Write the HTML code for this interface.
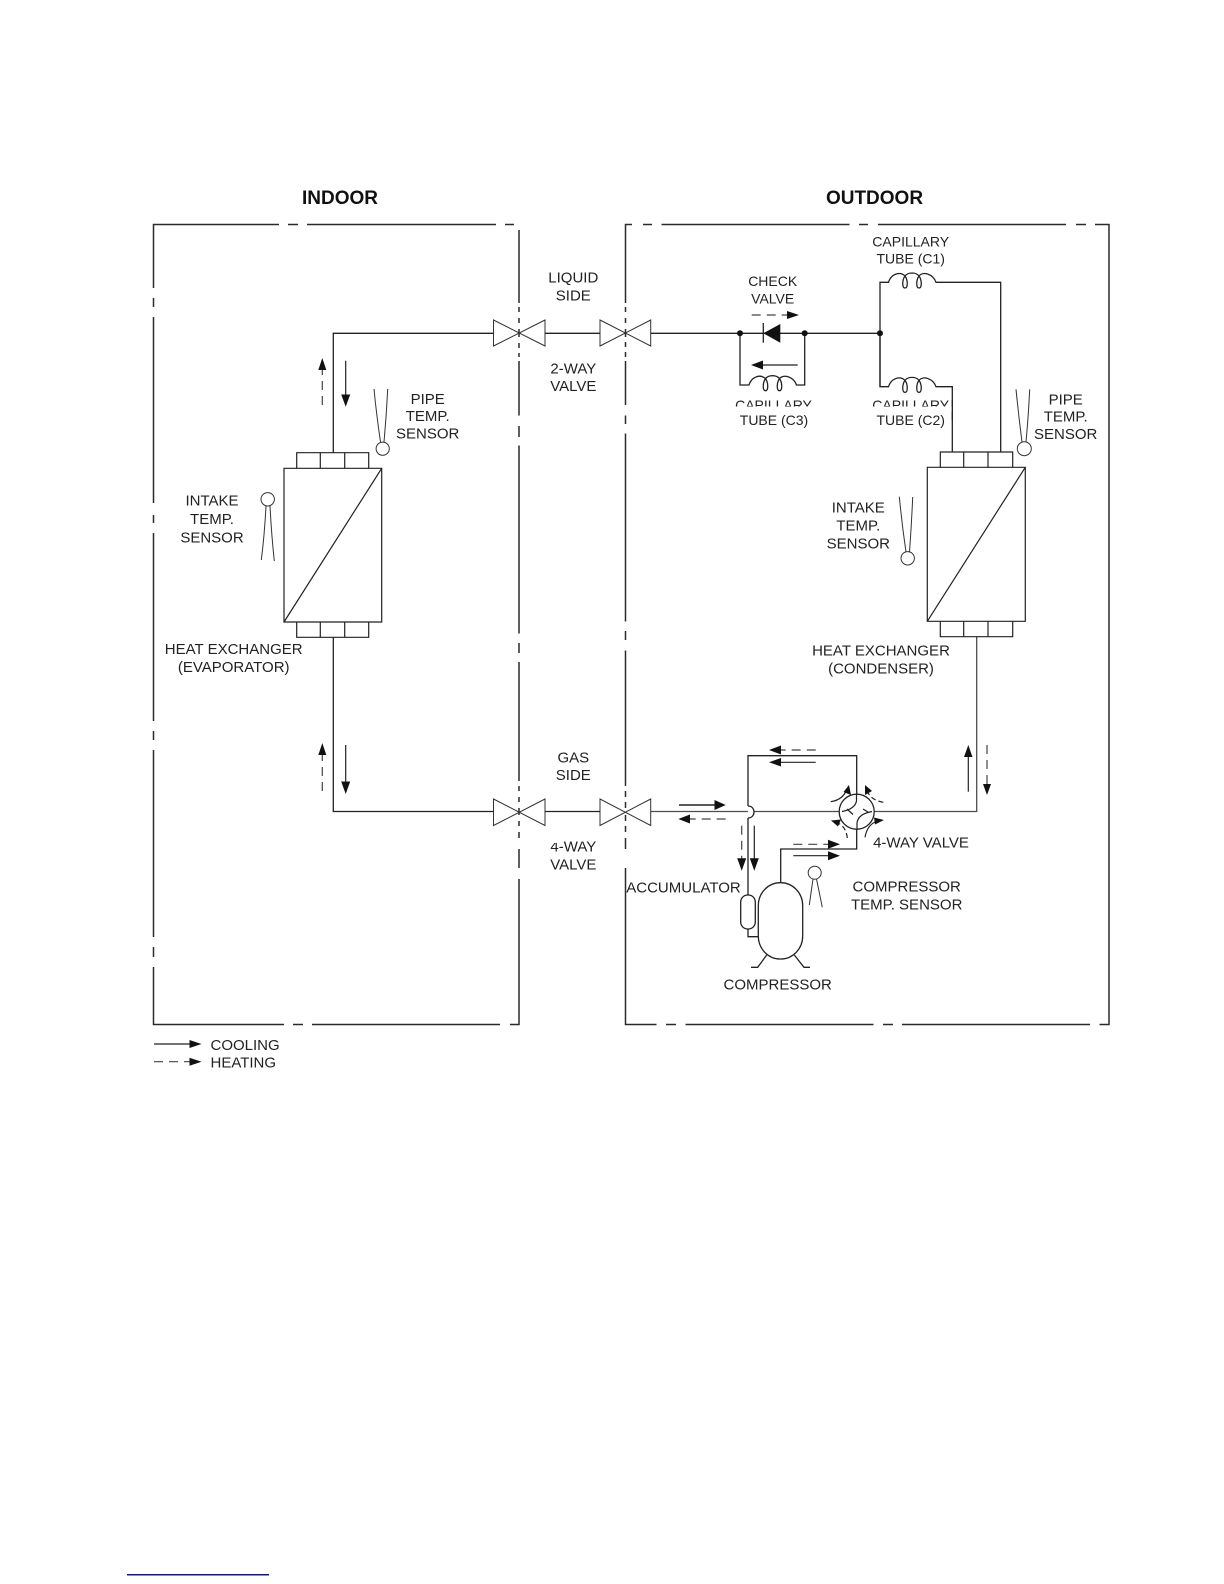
<!DOCTYPE html>
<html><head><meta charset="utf-8"><title>Refrigerant cycle diagram</title>
<style>
html,body{margin:0;padding:0;background:#fff;width:1224px;height:1584px;overflow:hidden}
svg{display:block}
text{font-family:"Liberation Sans",sans-serif;font-size:15px;fill:#222;text-anchor:middle}
.b{font-weight:bold;font-size:19px;fill:#111}
.l{text-anchor:start}
.s{font-size:14px}
.f{fill:none;stroke:#2a2a2a;stroke-width:1.5}
.p{fill:none;stroke:#222;stroke-width:1.3}
.t{fill:none;stroke:#333;stroke-width:1}
.d{fill:none;stroke:#444;stroke-width:1.2;stroke-dasharray:9 6}
.a{fill:none;stroke:#222;stroke-width:1.2}
polygon.h{fill:#111;stroke:none}
</style></head><body>
<svg width="1224" height="1584" viewBox="0 0 1224 1584" xmlns="http://www.w3.org/2000/svg">
<rect width="1224" height="1584" fill="#fff"/>
<text class="b" x="340" y="204">INDOOR</text>
<text class="b" x="874.500" y="204">OUTDOOR</text>

<!-- indoor frame -->
<path class="f" d="M153.500 288V224.500H279M288 224.500H298M307 224.500H496M505 224.500H514
M519 230V303M519 307V312M519 318V323M519 329V337M519 343V348M519 353V357M519 361V415.500M519 426V437M519 445.500V633.500M519 643V653M519 662V781M519 786V791M519 797V802M519 808V815M519 821V826M519 832V838M519 849V868M519 879V1024.500H510M500 1024.500H312M303 1024.500H293M284 1024.500H153.500V967M153.500 957V947M153.500 937V750M153.500 740V731M153.500 721V533M153.500 523V515M153.500 503V317M153.500 307V298"/>
<!-- outdoor frame -->
<path class="f" d="M625.500 303V224.500H632M643 224.500H652M661.500 224.500H849.500M859 224.500H868M878 224.500H1066M1076 224.500H1086M1095 224.500H1109V1024.500H1099.500M1090 1024.500H902M893 1024.500H883M873.500 1024.500H685.500M676 1024.500H666M656.500 1024.500H625.500V868M625.500 849V838M625.500 832V826M625.500 821V815M625.500 808V802M625.500 797V791M625.500 786V781H625.500V650.500M625.500 640V631M625.500 621.500V433.500M625.500 424V415.500M625.500 405V361M625.500 357V352M625.500 347V342M625.500 337V329M625.500 323V318M625.500 312V307"/>

<!-- valves -->
<path class="t" d="M493.500 320V346L545 320V346Z M600 320V346L650.700 320V346Z M493.500 799V825.500L545 799V825.500Z M600 799V825.500L650.700 799V825.500Z"/>

<!-- pipes -->
<path class="p" d="M333.300 453V333.300H493.500M545 333.300H600M650.700 333.300H880"/>
<path class="p" d="M333.300 637.300V811.500H493.500M545 811.500H600"/>
<path class="p" stroke-opacity=".8" d="M650.700 811.500H748M754 811.500H839M874.300 811.500H976.700V636.700"/>

<!-- indoor HX -->
<path class="t" d="M284 468.300H381.700V622H284ZM284 622L381.700 468.300M296.700 468.300V452.700H368.700V468.300M320.300 452.700V468.300M344.700 452.700V468.300M296.700 622V637.300H368.700V622M320.300 622V637.300M344.700 622V637.300" style="stroke:#222;stroke-width:1.2"/>
<!-- outdoor HX -->
<path class="t" d="M927.300 467.300H1025.300V621.300H927.300ZM927.300 621.300L1025.300 467.300M940.300 467.300V452H1012.700V467.300M963.700 452V467.300M988 452V467.300M940.300 621.300V636.700H1012.700V621.300M963.700 621.300V636.700M988 621.300V636.700" style="stroke:#222;stroke-width:1.2"/>

<!-- capillaries -->
<path class="p" d="M880 386.700V282.300H888.500C891 274 900 271 905 276C908 280 908 288 905 288C902 288 902 280 905 276C908 272 916 272 919 276C922 280 922 288 919 288C916 288 916 280 919 276C923 271 933 274 936 282.300H1000.700V452"/>
<path class="p" d="M880 333V386.700H888.500C891 378.400 900 375.400 905 380.400C908 384.400 908 392.400 905 392.400C902 392.400 902 384.400 905 380.400C908 376.400 916 376.400 919 380.400C922 384.400 922 392.400 919 392.400C916 392.400 916 384.400 919 380.400C923 375.400 933 378.400 936 386.700H952.300V452"/>
<path class="p" d="M740 333V385H749C751.500 376.700 760.500 373.700 765.500 378.700C768.500 382.700 768.500 390.700 765.500 390.700C762.500 390.700 762.500 382.700 765.500 378.700C768.500 374.700 776.500 374.700 779.500 378.700C782.500 382.700 782.500 390.700 779.500 390.700C776.500 390.700 776.500 382.700 779.500 378.700C783.500 373.700 793.500 376.700 796.500 385H804.700V333"/>
<circle cx="740" cy="333.300" r="3" fill="#111"/><circle cx="804.700" cy="333.300" r="3" fill="#111"/><circle cx="880" cy="333.300" r="3" fill="#111"/>
<polygon class="h" points="763.300,333.300 780.300,324 780.300,342.700"/>
<path class="p" d="M763.300 323V342.700"/>

<!-- compressor piping -->
<path class="p" d="M748 806V755.700H856.700V794M748 818V895M748 806C756 806 756 818 748 818"/>
<path class="p" d="M856.700 829V849H780.700V882.700"/>
<rect x="740.700" y="895" width="14.600" height="34" rx="7" class="p"/>
<path class="p" d="M748 929V936.700H758.300"/>
<rect x="758.300" y="882.700" width="44.400" height="76.300" rx="22" ry="23" class="p"/>
<path class="p" d="M766.700 955L757.700 967.300H751M794.300 955L804 967.300H810"/>

<!-- 4-way valve -->
<circle cx="856.700" cy="811.700" r="17.500" class="p"/>
<path class="a" d="M856.500 794V801Q855 809 842 811.500M857 829V823Q858 814 872 811.500M847 809L853 814.500M863 809L868 812"/>
<path class="a" d="M830.700 801.700Q843 800 847 789"/>
<polygon class="h" points="849,785 851,795 843.500,792"/>
<path class="a" stroke-dasharray="5 3" d="M883.300 802.300Q870 800 867 790"/>
<polygon class="h" points="865,785 872,791 865,795"/>
<path class="a" stroke-dasharray="5 3" d="M847.300 838Q846 825 835 822"/>
<polygon class="h" points="831,820.500 841,819.500 838,826.500"/>
<path class="a" d="M865 837.300Q867 825 877 821"/>
<polygon class="h" points="884,820 874,817.500 875,824.500"/>

<!-- sensors -->
<circle cx="382.700" cy="448.700" r="6.600" class="t"/>
<path class="t" d="M374 389Q376.500 415 380.500 442M387.700 389Q386.500 415 384 442"/>
<circle cx="267.700" cy="499.300" r="6.700" class="t"/>
<path class="t" d="M266 506Q264.500 535 261.300 560M270 506Q271.500 535 274.300 561"/>
<circle cx="1024.300" cy="448.700" r="7" class="t"/>
<path class="t" d="M1016 389.300Q1018.500 415 1022 442M1029.700 389.300Q1028.500 415 1026 442"/>
<circle cx="907.700" cy="558.300" r="6.700" class="t"/>
<path class="t" d="M899.300 496.700Q902 525 906 552M912.700 497Q911.500 525 909.500 552"/>
<circle cx="814.700" cy="872.700" r="6.500" class="t"/>
<path class="t" d="M813 879L809.300 905M816.500 879L822.300 907.300"/>

<!-- flow arrows -->
<path class="d" d="M322.300 405V370"/><polygon class="h" points="322.300,358 318.300,370 326.300,370"/>
<path class="a" d="M345.700 360.700V396"/><polygon class="h" points="345.700,406.700 341.200,394.500 350.200,394.500"/>
<path class="d" d="M322.300 791V755"/><polygon class="h" points="322.300,743 318.300,755 326.300,755"/>
<path class="a" d="M345.700 745V783"/><polygon class="h" points="345.700,794 341.200,781.500 350.200,781.500"/>

<path class="d" d="M751.700 315H788"/><polygon class="h" points="799,315 787,311 787,319"/>
<path class="a" d="M797.700 365H762"/><polygon class="h" points="751,365 763,360.500 763,369.500"/>

<path class="d" stroke-dasharray="11 7" d="M815.700 750H781"/><polygon class="h" points="769,750 781,745.500 781,754.500"/>
<path class="a" d="M815.700 762.300H780"/><polygon class="h" points="769,762.300 781,758 781,766.500"/>

<path class="a" style="stroke-width:1.5" d="M679 805H716"/><polygon class="h" points="725.700,805 714.500,800 714.500,810"/>
<path class="d" d="M725.700 819H690"/><polygon class="h" points="678.300,819 690,814.500 690,823.500"/>

<path class="d" d="M741.700 825.700V859"/><polygon class="h" points="741.700,870.700 737.200,858.300 746.200,858.300"/>
<path class="a" d="M754.300 825.700V859"/><polygon class="h" points="754.300,870.700 749.800,858.300 758.800,858.300"/>

<path class="d" stroke-dasharray="11 7" d="M793.300 844.300H829"/><polygon class="h" points="840,844.300 828,839.800 828,848.800"/>
<path class="a" d="M793.300 855.700H829"/><polygon class="h" points="840,855.700 828,851.200 828,860.200"/>

<path class="a" d="M968.300 791.700V756"/><polygon class="h" points="968.300,745 964,757 972.500,757"/>
<path class="d" d="M987 745V785"/><polygon class="h" points="987,795 983,784 991,784"/>

<!-- legend -->
<path class="a" d="M154 1044H191"/><polygon class="h" points="201.500,1044 189.500,1040 189.500,1048"/>
<path class="d" d="M154 1061.700H191"/><polygon class="h" points="201.500,1061.700 189.500,1057.700 189.500,1065.700"/>
<text class="l" x="210.500" y="1050">COOLING</text>
<text class="l" x="210.500" y="1067.300">HEATING</text>

<!-- labels -->
<text x="573.300" y="282.700">LIQUID</text><text x="573.300" y="300.700">SIDE</text>
<text x="573.300" y="373.300">2-WAY</text><text x="573.300" y="391">VALVE</text>
<text x="573.300" y="762.500">GAS</text><text x="573.300" y="780">SIDE</text>
<text x="573.300" y="851.500">4-WAY</text><text x="573.300" y="869.400">VALVE</text>
<rect x="550" y="840" width="9" height="3" fill="#fff"/>

<text x="427.700" y="404">PIPE</text><text x="427.700" y="421">TEMP.</text><text x="427.700" y="438.300">SENSOR</text>
<text x="212" y="505.300">INTAKE</text><text x="212" y="524">TEMP.</text><text x="212" y="542.700">SENSOR</text>
<text x="233.700" y="654">HEAT EXCHANGER</text><text x="233.700" y="672">(EVAPORATOR)</text>

<text x="910.700" y="246.700" class="s">CAPILLARY</text><text x="910.700" y="263.300" class="s">TUBE (C1)</text>
<text x="772.700" y="286" class="s">CHECK</text><text x="772.700" y="303.300" class="s">VALVE</text>
<text x="773.500" y="410" class="s">CAPILLARY</text><text x="910.700" y="410" class="s">CAPILLARY</text>
<rect x="725" y="406.500" width="100" height="5" fill="#fff"/>
<rect x="865" y="406.500" width="87" height="5" fill="#fff"/>
<path class="p" d="M952.300 400V420"/>
<text x="774" y="425" class="s">TUBE (C3)</text><text x="910.700" y="425" class="s">TUBE (C2)</text>
<text x="1065.700" y="404.300">PIPE</text><text x="1065.700" y="421.700">TEMP.</text><text x="1065.700" y="439">SENSOR</text>
<text x="858.300" y="512.700">INTAKE</text><text x="858.300" y="530.700">TEMP.</text><text x="858.300" y="548.700">SENSOR</text>
<text x="881" y="655.300">HEAT EXCHANGER</text><text x="881" y="673.300">(CONDENSER)</text>
<text x="921" y="847.700">4-WAY VALVE</text>
<text x="906.700" y="891.700">COMPRESSOR</text><text x="906.700" y="909.300">TEMP. SENSOR</text>
<text x="683.500" y="892.300">ACCUMULATOR</text>
<text x="777.700" y="989.300">COMPRESSOR</text>

<rect x="127" y="1574" width="142" height="1.500" fill="#14148c"/>
</svg>
</body></html>
